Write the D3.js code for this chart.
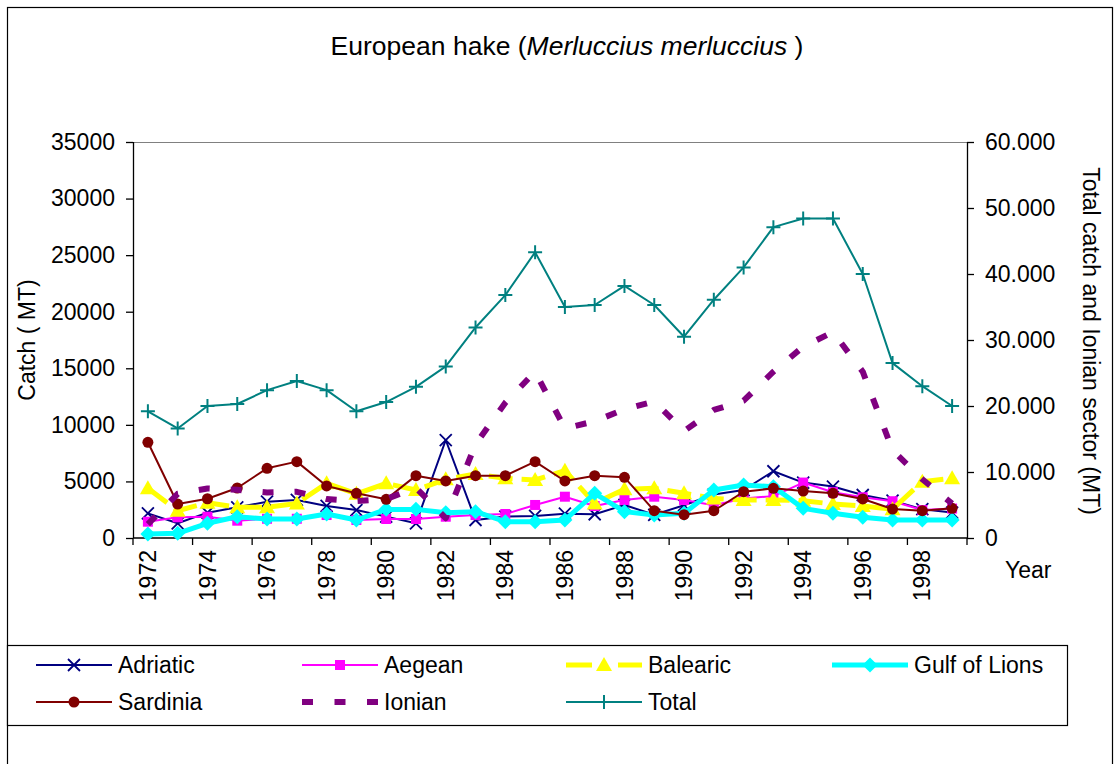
<!DOCTYPE html>
<html>
<head>
<meta charset="utf-8">
<script src="https://cdn.jsdelivr.net/npm/d3@7"></script>
<style>
  body { margin: 0; background: #fff; }
  svg text { font-family: "Liberation Sans", Arial, sans-serif; fill: #000; }
</style>
</head>
<body>
<div id="chart"></div>
<script>
// data (MT)
const years = [1972, 1973, 1974, 1975, 1976, 1977, 1978, 1979, 1980, 1981, 1982, 1983, 1984, 1985,
  1986, 1987, 1988, 1989, 1990, 1991, 1992, 1993, 1994, 1995, 1996, 1997, 1998, 1999];
const adriatic = [2180, 1300, 2240, 2710, 3210, 3360, 2830, 2470, 1890, 1300, 8660, 1590, 1890, 1950,
  2150, 2100, 2920, 2050, 2900, 3850, 4240, 5900, 4900, 4550, 3800, 3300, 2550, 2250];
const aegean = [1440, 1830, 1880, 1530, 1700, 1700, 2030, 1590, 1680, 1680, 1880, 2030, 2120, 2920,
  3650, 2830, 3360, 3650, 3360, 2900, 3500, 3700, 4900, 4050, 3600, 3250, 2470, 2600];
const balearic = [4390, 2410, 3120, 2710, 2710, 3060, 4830, 3900, 4830, 4240, 5190, 5660, 5270, 5130,
  5950, 3060, 4300, 4390, 3950, 3500, 3360, 3360, 3300, 3000, 2830, 2550, 4980, 5270];
const gulfOfLions = [350, 410, 1300, 1880, 1680, 1680, 2120, 1590, 2530, 2530, 2240, 2330, 1440, 1440,
  1590, 3950, 2330, 2030, 2180, 4240, 4680, 4530, 2620, 2180, 1830, 1590, 1590, 1590];
const sardinia = [8460, 3000, 3470, 4420, 6160, 6750, 4600, 3950, 3420, 5510, 5040, 5510, 5510, 6750,
  5040, 5510, 5360, 2410, 2060, 2410, 4090, 4390, 4150, 3950, 3450, 2560, 2410, 2620];
// secondary axis series
const ionian = [2100, 6700, 7500, 7300, 6900, 7000, 5900, 5600, 5900, 7600, 3000, 14200, 20500, 25200,
  16600, 17700, 19500, 20700, 16200, 19400, 20800, 25200, 29000, 31200, 25200, 13300, 8900, 5200];
const total = [19200, 16600, 20000, 20300, 22400, 23800, 22400, 19200, 20600, 22900, 26000, 31900, 36800, 43300,
  35000, 35300, 38200, 35300, 30500, 36100, 41000, 47100, 48400, 48400, 40000, 26500, 23000, 20000];

const leftTicks = d3.range(0, 35001, 5000);
const rightTicks = d3.range(0, 60001, 10000);

(function () {
  const svg_width = 1114, svg_height = 764;
  const plot = { left: 133, right: 967, top: 142, bottom: 538 };
  const fs = "23px";

  const svg = d3.select("#chart").append("svg")
    .attr("width", svg_width)
    .attr("height", svg_height);

  svg.append("rect").attr("width", svg_width).attr("height", svg_height).attr("fill", "#fff");

  // chart area border
  svg.append("rect")
    .attr("x", 7.5).attr("y", 7.5)
    .attr("width", 1105).attr("height", 800)
    .attr("fill", "none").attr("stroke", "#000").attr("stroke-width", 1.2);

  // title
  const title = svg.append("text")
    .attr("x", 567).attr("y", 55)
    .attr("text-anchor", "middle")
    .style("font-size", "26.5px");
  title.append("tspan").text("European hake (");
  title.append("tspan").style("font-style", "italic").text("Merluccius merluccius");
  title.append("tspan").text(" )");

  // scales
  const x = d3.scaleBand().domain(years).range([plot.left, plot.right]).padding(0);
  const cx = d => x(d) + x.bandwidth() / 2;
  const yL = d3.scaleLinear().domain([0, 35000]).range([plot.bottom, plot.top]);
  const yR = d3.scaleLinear().domain([0, 60000]).range([plot.bottom, plot.top]);

  // plot area top edge
  svg.append("line")
    .attr("x1", plot.left).attr("x2", plot.right)
    .attr("y1", plot.top + 0.5).attr("y2", plot.top + 0.5)
    .attr("stroke", "#808080").attr("stroke-width", 1);

  // left axis
  const gL = svg.append("g")
    .attr("transform", "translate(" + plot.left + ",0)")
    .call(d3.axisLeft(yL).tickValues(leftTicks).tickSize(7).tickPadding(11).tickFormat(d3.format("d")));
  // right axis
  const gR = svg.append("g")
    .attr("transform", "translate(" + plot.right + ",0)")
    .call(d3.axisRight(yR).tickValues(rightTicks).tickSize(7).tickPadding(11)
      .tickFormat(d => d === 0 ? "0" : d3.format(",")(d).replace(",", ".")));

  // x axis: ticks on category boundaries every 2 years, labels every 2 years
  const gX = svg.append("g").attr("transform", "translate(0," + plot.bottom + ")");
  gX.append("line")
    .attr("x1", plot.left).attr("x2", plot.right)
    .attr("stroke", "#000").attr("stroke-width", 1.3);
  const tickYears = years.filter((d, i) => i % 2 === 0);
  gX.selectAll(".xt")
    .data(tickYears.map(d => x(d)).concat([plot.right]))
    .enter().append("line")
    .attr("class", "xt")
    .attr("x1", d => d).attr("x2", d => d)
    .attr("y1", 0).attr("y2", 7)
    .attr("stroke", "#000").attr("stroke-width", 1.3);
  gX.selectAll(".xl")
    .data(tickYears)
    .enter().append("text")
    .attr("class", "xl")
    .attr("transform", d => "translate(" + cx(d) + ",12) rotate(-90)")
    .attr("dy", "0.35em")
    .attr("text-anchor", "end")
    .style("font-size", fs)
    .text(d => d);

  [gL, gR].forEach(g => {
    g.selectAll("path.domain").attr("stroke", "#000").attr("stroke-width", 1.3);
    g.selectAll(".tick line").attr("stroke", "#000").attr("stroke-width", 1.3);
    g.selectAll(".tick text").style("font-size", fs).attr("font-family", null);
    g.attr("font-family", null).attr("font-size", null);
  });
  gL.select("path.domain").attr("d", "M0.5," + plot.top + "V" + plot.bottom);
  gR.select("path.domain").attr("d", "M0.5," + plot.top + "V" + plot.bottom);

  // axis titles
  svg.append("text")
    .attr("transform", "translate(35,340) rotate(-90)")
    .attr("text-anchor", "middle")
    .style("font-size", fs)
    .text("Catch ( MT)");
  svg.append("text")
    .attr("transform", "translate(1083,341) rotate(90)")
    .attr("text-anchor", "middle")
    .style("font-size", fs)
    .text("Total catch and Ionian sector (MT)");
  svg.append("text")
    .attr("x", 1005).attr("y", 578)
    .style("font-size", fs)
    .text("Year");

  // markers
  const markers = {
    x: "M-6,-6L6,6M-6,6L6,-6",
    square: "M-5,-5H5V5H-5Z",
    triangle: "M0,-8L8,6H-8Z",
    diamond: "M0,-7.5L7.5,0L0,7.5L-7.5,0Z",
    circle: d3.symbol(d3.symbolCircle, 95)(),
    plus: "M-7,0H7M0,-7V7"
  };

  const series = [
    { name: "Adriatic", values: adriatic, axis: yL, color: "#000080", width: 2, dash: null, marker: "x", fill: false, mw: 1.8 },
    { name: "Aegean", values: aegean, axis: yL, color: "#FF00FF", width: 2, dash: null, marker: "square", fill: true },
    { name: "Balearic", values: balearic, axis: yL, color: "#FFFF00", width: 5, dash: "24,9", marker: "triangle", fill: true },
    { name: "Gulf of Lions", values: gulfOfLions, axis: yL, color: "#00FFFF", width: 5, dash: null, marker: "diamond", fill: true },
    { name: "Sardinia", values: sardinia, axis: yL, color: "#800000", width: 2, dash: null, marker: "circle", fill: true },
    { name: "Ionian", values: ionian, axis: yR, color: "#800080", width: 6, dash: "11,21", marker: null, fill: true },
    { name: "Total", values: total, axis: yR, color: "#008080", width: 2, dash: null, marker: "plus", fill: false, mw: 2 }
  ];

  function drawMarker(g, s) {
    const p = g.append("path").attr("d", markers[s.marker]);
    if (s.fill) p.attr("fill", s.color).attr("stroke", "none");
    else p.attr("fill", "none").attr("stroke", s.color).attr("stroke-width", s.mw);
  }

  series.forEach(s => {
    const line = d3.line()
      .x((d, i) => cx(years[i]))
      .y(d => s.axis(d));
    svg.append("path")
      .datum(s.values)
      .attr("d", line)
      .attr("fill", "none")
      .attr("stroke", s.color)
      .attr("stroke-width", s.width)
      .attr("stroke-linejoin", "round")
      .attr("stroke-dasharray", s.dash);
    if (s.marker) {
      s.values.forEach((v, i) => {
        const g = svg.append("g").attr("transform", "translate(" + cx(years[i]) + "," + s.axis(v) + ")");
        drawMarker(g, s);
      });
    }
  });

  // legend
  const legend = svg.append("g");
  legend.append("rect")
    .attr("x", 7.5).attr("y", 645.5)
    .attr("width", 1060).attr("height", 80)
    .attr("fill", "#fff").attr("stroke", "#000").attr("stroke-width", 1.2);
  const cols = [36, 302, 566, 832];
  const rows = [665, 702];
  series.forEach((s, i) => {
    const lx = cols[i % 4], ly = rows[Math.floor(i / 4)];
    const g = legend.append("g").attr("transform", "translate(" + lx + "," + ly + ")");
    g.append("line")
      .attr("x1", 0).attr("x2", 76)
      .attr("stroke", s.color)
      .attr("stroke-width", s.width)
      .attr("stroke-dasharray", s.dash === null ? null : (s.name === "Ionian" ? "11,21.5" : "26,26"));
    if (s.marker) {
      const m = g.append("g").attr("transform", "translate(38,0)");
      drawMarker(m, s);
    }
    g.append("text")
      .attr("x", 82).attr("dy", "0.35em")
      .style("font-size", fs)
      .text(s.name);
  });
})();
</script>
</body>
</html>
